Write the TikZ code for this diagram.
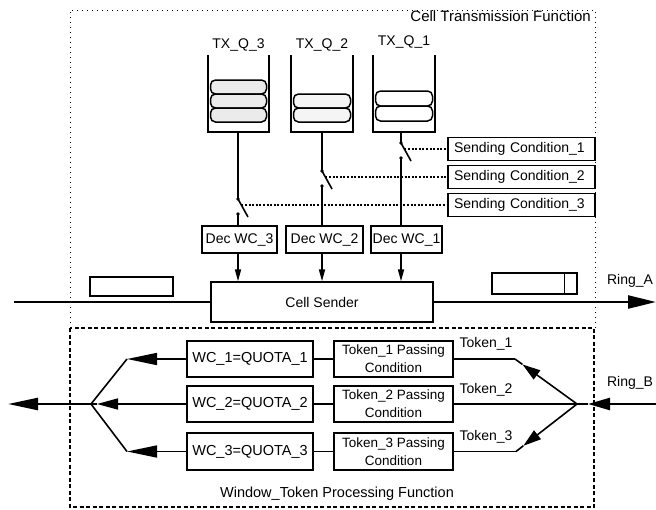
\documentclass[tikz,border=0pt]{standalone}
\usepackage{fontspec}
\setmainfont{Liberation Sans}
\usetikzlibrary{arrows.meta,calc}
\newcommand\fsz[1]{\fontsize{#1}{#1}\selectfont}
\begin{document}
\begin{tikzpicture}[x=1pt,y=-1pt,
  box/.style={draw,line width=1.3pt,inner sep=0pt,fill=white},
  decbox/.style={box,font=\fsz{14},minimum height=27pt},
  scbox/.style={box,font=\fsz{14},minimum height=23pt,text width=135pt,align=left,inner xsep=6pt},
  wcbox/.style={box,font=\fsz{14.5},minimum width=126pt,minimum height=36pt},
  tkbox/.style={box,font=\fontsize{13.5}{18}\selectfont,minimum width=119pt,minimum height=36pt,align=center},
  lab/.style={font=\fsz{14},inner sep=1pt},
  qwall/.style={line width=1.8pt},
  cell/.style={draw,line width=1.5pt,rounded corners=5pt,fill=gray!16},
  wire/.style={line width=1.6pt},
  ring/.style={line width=2.4pt},
  ctrl/.style={line width=1.2pt,dash pattern=on 2pt off 1.6pt},
  frame/.style={line width=0.9pt,dash pattern=on 1pt off 4pt},
  dframe/.style={line width=1.2pt,dash pattern=on 4pt off 2.5pt},
  bigtip/.style={-{Triangle[length=28pt,width=13pt]}},
  rbtip/.style={-{Triangle[length=22pt,width=12pt]}},
  midtip/.style={-{Triangle[length=18pt,width=11pt]}},
  lefttip/.style={-{Triangle[length=30pt,width=12pt]}},
  wc2tip/.style={-{Triangle[length=21pt,width=11pt]}},
  dectip/.style={-{Triangle[length=12pt,width=6pt]}}]
\useasboundingbox (0,0) rectangle (656,509);

% frames
\draw[frame] (70,328) -- (70,10) -- (595,10) -- (595,328);
\node[lab,font=\fsz{15},anchor=north east] (ctf) at (592,9) {Cell Transmission Function};
\draw[dframe] (70,328) rectangle (594,507);
\node[lab,font=\fsz{14.5}] (wtp) at (337,494) {Window\_Token Processing Function};

% queues
\draw[qwall] (208,55) -- (208,132) -- (269,132) -- (269,55);
\draw[qwall] (291,55) -- (291,132) -- (353,132) -- (353,55);
\draw[qwall] (373,55) -- (373,132) -- (435,132) -- (435,55);
\draw[cell] (210.5,80) rectangle (266.5,94);
\draw[cell] (210.5,94) rectangle (266.5,108);
\draw[cell] (210.5,108) rectangle (266.5,122);
\draw[cell,fill=gray!8] (293.5,94) rectangle (350.5,108);
\draw[cell,fill=gray!8] (293.5,108) rectangle (350.5,122);
\draw[cell,fill=white] (375.5,91) rectangle (432.5,106);
\draw[cell,fill=white] (375.5,106) rectangle (432.5,121);
\node[lab] (l3) at (238.5,45) {TX\_Q\_3};
\node[lab] (l2) at (322,45) {TX\_Q\_2};
\node[lab] (l1) at (404,42) {TX\_Q\_1};

% switch coordinates
\coordinate (q3b) at (238,132); \coordinate (s3a) at (238,199);
\coordinate (s3b) at (248,217); \coordinate (s3c) at (238,214);
\coordinate (s3m) at (241.3,205);
\coordinate (q2b) at (322,132); \coordinate (s2a) at (322,171);
\coordinate (s2b) at (332,189); \coordinate (s2c) at (322,186);
\coordinate (s2m) at (325.3,177);
\coordinate (q1b) at (401,132); \coordinate (s1a) at (401,143);
\coordinate (s1b) at (411,161); \coordinate (s1c) at (401,158);
\coordinate (s1m) at (404.3,149);

% Dec boxes
\node[decbox,minimum width=75pt] (dec3) at (239.5,239.5) {Dec WC\_3};
\node[decbox,minimum width=77pt] (dec2) at (324.5,239.5) {Dec WC\_2};
\node[decbox,minimum width=71pt] (dec1) at (406.5,239.5) {Dec WC\_1};

% sending condition boxes
\node[scbox] (sc1) at (521.5,149) {Sending Condition\_1};
\node[scbox] (sc2) at (521.5,177) {Sending Condition\_2};
\node[scbox] (sc3) at (521.5,205) {Sending Condition\_3};

% wires and switches
\draw[wire] (q3b) -- (s3a); \draw[wire] (s3a) -- (s3b);
\draw[wire] (s3c) -- (dec3.north -| s3c);
\fill (s3a) circle (1.8pt); \fill (s3c) circle (1.8pt);
\draw[wire] (q2b) -- (s2a); \draw[wire] (s2a) -- (s2b);
\draw[wire] (s2c) -- (dec2.north -| s2c);
\fill (s2a) circle (1.8pt); \fill (s2c) circle (1.8pt);
\draw[wire] (q1b) -- (s1a); \draw[wire] (s1a) -- (s1b);
\draw[wire] (s1c) -- (dec1.north -| s1c);
\fill (s1a) circle (1.8pt); \fill (s1c) circle (1.8pt);
\draw[ctrl] (s1m) -- (sc1.west);
\draw[ctrl] (s2m) -- (sc2.west);
\draw[ctrl] (s3m) -- (sc3.west);

% cell sender and ring A
\node[box,font=\fsz{14},minimum width=222pt,minimum height=40pt] (cs) at (322,302) {Cell Sender};
\draw[wire,dectip] (dec3.south -| s3c) -- (cs.north -| s3c);
\draw[wire,dectip] (dec2.south -| s2c) -- (cs.north -| s2c);
\draw[wire,dectip] (dec1.south -| s1c) -- (cs.north -| s1c);
\coordinate (ra0) at (14,302); \coordinate (ra1) at (656,302);
\draw[ring] (ra0) -- (cs.west);
\draw[ring,bigtip] (cs.east) -- (ra1);
\node[box,minimum width=83pt,minimum height=19pt] (cl) at (131.5,286.5) {};
\node[box,minimum width=85pt,minimum height=21pt] (cr) at (534.5,283.5) {};
\draw[line width=1.3pt] (cr.north east) ++(-13,0) -- ++(0,21);
\node[lab] (rA) at (630,281) {Ring\_A};

% window token processing
\node[wcbox] (wc1) at (250,359) {WC\_1=QUOTA\_1};
\node[wcbox] (wc2) at (250,404) {WC\_2=QUOTA\_2};
\node[wcbox,minimum height=37pt] (wc3) at (250,451.5) {WC\_3=QUOTA\_3};
\node[tkbox] (tk1) at (393.5,359) {Token\_1 Passing\\Condition};
\node[tkbox] (tk2) at (393.5,404) {Token\_2 Passing\\Condition};
\node[tkbox,minimum height=37pt] (tk3) at (393.5,451.5) {Token\_3 Passing\\Condition};
\draw[wire] (wc1.east) -- (tk1.west);
\draw[wire] (wc2.east) -- (tk2.west);
\draw[wire] (wc3.east) -- (tk3.west);

% right side tokens
\coordinate (jR) at (577,404);
\coordinate (t1c) at (515,359);
\coordinate (t3c) at (516,451.5);
\coordinate (a1) at ($(jR)!0.88!(t1c)$);
\coordinate (a3) at ($(jR)!0.88!(t3c)$);
\draw[wire] (tk1.east) -- (t1c);
\draw[wire,midtip] (jR) -- (a1);
\draw[wire] (a1) -- (t1c);
\draw[wire] (tk2.east) -- (jR);
\draw[wire] (tk3.east) -- (t3c);
\draw[wire,midtip] (jR) -- (a3);
\draw[wire] (a3) -- (t3c);
\coordinate (rb0) at (656,404); \coordinate (rbt) at (588,404);
\draw[ring,rbtip] (rb0) -- (rbt);
\draw[ring] (rbt) -- (jR);
\node[lab] (rB) at (630,383) {Ring\_B};
\node[lab] (tl1) at (486,344) {Token\_1};
\node[lab] (tl2) at (486,390) {Token\_2};
\node[lab] (tl3) at (486,437) {Token\_3};

% left side
\coordinate (jL) at (91,404);
\coordinate (w1c) at (127,359);
\coordinate (w3c) at (127,451.5);
\coordinate (w2t) at (97,404);
\coordinate (out) at (8,404);
\draw[wire,lefttip] (wc1.west) -- (w1c);
\draw[wire] (w1c) -- (jL);
\draw[wire,wc2tip] (wc2.west) -- (w2t);
\draw[wire] (w2t) -- (jL);
\draw[wire,lefttip] (wc3.west) -- (w3c);
\draw[wire] (w3c) -- (jL);
\draw[ring,lefttip] (jL) -- (out);
\end{tikzpicture}
\end{document}
